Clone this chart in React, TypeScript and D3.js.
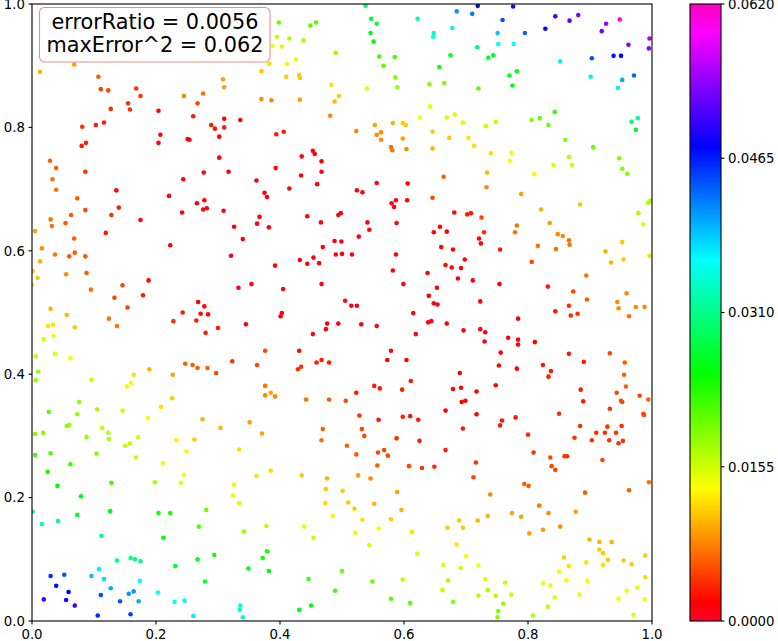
import React from "react";
import * as d3 from "d3";

// [x, y, error] samples
const points: [number, number, number][] = [
[0.013,0.890,0.010],[0.068,0.902,0.009],[0.107,0.882,0.006],[0.111,0.862,0.005],[0.123,0.860,0.005],
[0.168,0.863,0.004],[0.175,0.851,0.004],[0.155,0.839,0.004],[0.158,0.829,0.004],[0.127,0.830,0.004],
[0.204,0.827,0.002],[0.245,0.851,0.008],[0.276,0.855,0.007],[0.267,0.839,0.005],[0.308,0.878,0.009],
[0.310,0.865,0.009],[0.260,0.818,0.003],[0.310,0.814,0.002],[0.289,0.804,0.003],[0.295,0.798,0.003],
[0.310,0.800,0.003],[0.081,0.801,0.004],[0.103,0.804,0.003],[0.116,0.808,0.003],[0.207,0.788,0.002],
[0.204,0.775,0.002],[0.251,0.781,0.001],[0.254,0.780,0.001],[0.302,0.785,0.002],[0.302,0.751,0.001],
[0.080,0.770,0.003],[0.087,0.775,0.003],[0.029,0.746,0.006],[0.039,0.734,0.006],[0.033,0.716,0.007],
[0.039,0.699,0.007],[0.086,0.728,0.004],[0.073,0.685,0.006],[0.136,0.698,0.002],[0.140,0.670,0.003],
[0.221,0.689,0.001],[0.244,0.716,0.001],[0.277,0.727,0.001],[0.317,0.728,0.001],[0.266,0.677,0.001],
[0.278,0.682,0.001],
[0.538,0.997,0.030],[0.547,0.976,0.027],[0.556,0.968,0.027],[0.546,0.953,0.026],[0.551,0.939,0.025],
[0.622,0.976,0.033],[0.648,0.953,0.034],[0.647,0.947,0.034],[0.398,0.970,0.020],[0.449,0.965,0.021],
[0.458,0.970,0.021],[0.395,0.947,0.016],[0.415,0.944,0.017],[0.438,0.941,0.017],[0.403,0.931,0.015],
[0.388,0.932,0.014],[0.383,0.903,0.012],[0.370,0.891,0.011],[0.411,0.903,0.013],[0.426,0.910,0.014],
[0.490,0.921,0.018],[0.410,0.882,0.011],[0.431,0.885,0.011],[0.432,0.880,0.011],[0.483,0.869,0.012],
[0.495,0.851,0.011],[0.488,0.842,0.010],[0.481,0.819,0.008],[0.370,0.846,0.008],[0.386,0.844,0.008],
[0.432,0.845,0.009],[0.336,0.812,0.002],[0.394,0.789,0.003],[0.406,0.793,0.003],[0.435,0.753,0.001],
[0.453,0.762,0.001],[0.456,0.757,0.001],[0.467,0.745,0.002],[0.393,0.734,0.001],[0.434,0.722,0.001],
[0.467,0.728,0.001],[0.460,0.708,0.001],[0.362,0.714,0.001],[0.375,0.694,0.001],[0.379,0.687,0.001],
[0.415,0.701,0.001],[0.523,0.794,0.008],[0.553,0.804,0.009],[0.556,0.788,0.008],[0.563,0.792,0.008],
[0.563,0.780,0.008],[0.582,0.807,0.010],[0.598,0.807,0.011],[0.603,0.804,0.011],[0.598,0.782,0.009],
[0.579,0.768,0.007],[0.581,0.763,0.007],[0.604,0.765,0.008],[0.646,0.793,0.011],[0.646,0.766,0.010],
[0.626,0.816,0.014],[0.642,0.834,0.015],[0.540,0.863,0.015],[0.589,0.865,0.018],[0.586,0.881,0.019],
[0.560,0.915,0.022],[0.567,0.900,0.021],[0.585,0.914,0.022],[0.641,0.870,0.019],[0.657,0.898,0.024],
[0.665,0.872,0.019],[0.664,0.720,0.006],[0.646,0.686,0.005],[0.524,0.698,0.001],[0.533,0.695,0.001],
[0.556,0.710,0.001],[0.606,0.709,0.001],[0.605,0.682,0.002],[0.580,0.677,0.001],[0.587,0.682,0.001],
[0.584,0.671,0.001],
[0.719,0.997,0.047],[0.776,0.996,0.049],[0.685,0.988,0.041],[0.710,0.984,0.042],[0.759,0.974,0.044],
[0.678,0.961,0.037],[0.751,0.953,0.039],[0.795,0.953,0.043],[0.752,0.935,0.036],[0.777,0.935,0.036],
[0.718,0.930,0.030],[0.828,0.960,0.048],[0.844,0.980,0.051],[0.867,0.973,0.052],[0.881,0.982,0.054],
[0.926,0.968,0.055],[0.948,0.975,0.062],[0.919,0.956,0.053],[0.962,0.934,0.054],[0.996,0.944,0.055],
[0.995,0.928,0.054],[0.938,0.916,0.047],[0.950,0.916,0.048],[0.903,0.912,0.044],[0.852,0.907,0.037],
[0.901,0.882,0.037],[0.971,0.884,0.043],[0.952,0.877,0.040],[0.945,0.864,0.037],[0.675,0.917,0.026],
[0.736,0.913,0.027],[0.744,0.917,0.027],[0.770,0.884,0.026],[0.782,0.891,0.026],[0.775,0.868,0.026],
[0.720,0.863,0.021],[0.669,0.816,0.015],[0.682,0.821,0.015],[0.695,0.808,0.015],[0.732,0.802,0.016],
[0.748,0.809,0.016],[0.806,0.812,0.019],[0.819,0.815,0.020],[0.833,0.804,0.020],[0.843,0.825,0.023],
[0.860,0.780,0.019],[0.905,0.768,0.020],[0.967,0.809,0.030],[0.977,0.815,0.032],[0.974,0.796,0.027],
[0.673,0.783,0.011],[0.704,0.783,0.012],[0.713,0.770,0.012],[0.740,0.758,0.012],[0.773,0.759,0.014],
[0.771,0.746,0.013],[0.866,0.752,0.017],[0.871,0.739,0.016],[0.841,0.739,0.015],[0.947,0.750,0.019],
[0.952,0.733,0.019],[0.960,0.725,0.019],[0.810,0.724,0.013],[0.734,0.727,0.010],[0.733,0.703,0.008],
[0.789,0.692,0.009],[0.884,0.675,0.011],[0.994,0.678,0.017],[0.997,0.681,0.017],
[0.086,0.666,0.005],[0.128,0.658,0.004],[0.063,0.658,0.006],[0.030,0.651,0.007],[0.032,0.640,0.007],
[0.054,0.645,0.006],[0.005,0.632,0.009],[0.175,0.650,0.002],[0.119,0.629,0.003],[0.068,0.620,0.006],
[0.242,0.662,0.001],[0.276,0.667,0.001],[0.282,0.669,0.001],[0.309,0.665,0.001],[0.326,0.639,0.001],
[0.223,0.609,0.001],[0.321,0.592,0.001],[0.016,0.604,0.008],[0.037,0.594,0.007],[0.060,0.591,0.006],
[0.069,0.597,0.006],[0.086,0.591,0.006],[0.013,0.583,0.010],[0.001,0.567,0.011],[0.009,0.556,0.011],
[0.000,0.545,0.012],[0.055,0.562,0.008],[0.088,0.564,0.006],[0.095,0.537,0.007],[0.146,0.544,0.005],
[0.133,0.524,0.005],[0.188,0.552,0.002],[0.179,0.528,0.003],[0.154,0.508,0.005],[0.124,0.490,0.007],
[0.137,0.478,0.007],[0.030,0.506,0.010],[0.056,0.496,0.010],[0.026,0.478,0.012],[0.034,0.480,0.012],
[0.069,0.476,0.011],[0.035,0.462,0.013],[0.019,0.457,0.015],[0.006,0.429,0.016],[0.037,0.433,0.015],
[0.062,0.426,0.014],[0.010,0.404,0.018],[0.006,0.390,0.018],[0.096,0.391,0.016],[0.076,0.355,0.018],
[0.027,0.339,0.021],[0.073,0.335,0.018],[0.105,0.343,0.017],[0.146,0.341,0.016],[0.153,0.380,0.013],
[0.160,0.386,0.013],[0.164,0.399,0.012],[0.189,0.408,0.010],[0.227,0.399,0.009],[0.226,0.361,0.011],
[0.208,0.347,0.012],[0.247,0.417,0.006],[0.259,0.415,0.006],[0.267,0.410,0.006],[0.283,0.410,0.006],
[0.297,0.402,0.005],[0.323,0.421,0.004],[0.268,0.517,0.002],[0.278,0.510,0.002],[0.243,0.500,0.003],
[0.272,0.498,0.002],[0.284,0.497,0.002],[0.228,0.486,0.004],[0.265,0.487,0.003],[0.280,0.467,0.003],
[0.300,0.475,0.003],
[0.367,0.655,0.001],[0.363,0.644,0.001],[0.382,0.638,0.001],[0.340,0.619,0.001],[0.444,0.656,0.001],
[0.466,0.646,0.001],[0.494,0.658,0.001],[0.498,0.661,0.001],[0.541,0.646,0.001],[0.544,0.634,0.001],
[0.527,0.623,0.001],[0.588,0.645,0.001],[0.488,0.616,0.001],[0.499,0.615,0.001],[0.469,0.606,0.001],
[0.490,0.594,0.001],[0.500,0.595,0.001],[0.516,0.594,0.001],[0.432,0.585,0.001],[0.444,0.579,0.001],
[0.454,0.589,0.001],[0.463,0.580,0.001],[0.392,0.576,0.001],[0.587,0.594,0.001],[0.582,0.568,0.001],
[0.333,0.540,0.001],[0.354,0.546,0.001],[0.405,0.538,0.001],[0.467,0.546,0.001],[0.599,0.546,0.001],
[0.505,0.519,0.001],[0.515,0.511,0.001],[0.524,0.511,0.001],[0.403,0.499,0.001],[0.401,0.494,0.001],
[0.345,0.481,0.001],[0.476,0.482,0.001],[0.494,0.482,0.001],[0.474,0.473,0.001],[0.453,0.465,0.001],
[0.531,0.481,0.001],[0.556,0.478,0.001],[0.615,0.499,0.001],[0.638,0.564,0.001],[0.653,0.540,0.001],
[0.640,0.527,0.001],[0.648,0.515,0.001],[0.654,0.513,0.001],[0.639,0.484,0.001],[0.644,0.486,0.001],
[0.619,0.465,0.001],[0.648,0.630,0.002],[0.658,0.639,0.002],[0.660,0.606,0.002],[0.579,0.438,0.002],
[0.573,0.423,0.002],[0.604,0.423,0.002],[0.611,0.389,0.003],[0.597,0.375,0.003],[0.552,0.381,0.003],
[0.561,0.377,0.003],[0.523,0.370,0.003],[0.431,0.438,0.002],[0.459,0.419,0.003],[0.467,0.423,0.003],
[0.479,0.419,0.003],[0.429,0.408,0.004],[0.434,0.412,0.004],[0.376,0.438,0.005],[0.363,0.415,0.005],
[0.376,0.381,0.007],[0.376,0.366,0.008],[0.385,0.370,0.009],[0.392,0.364,0.008],[0.442,0.359,0.007],
[0.479,0.359,0.006],[0.506,0.357,0.005],
[0.681,0.662,0.002],[0.702,0.659,0.003],[0.708,0.661,0.003],[0.725,0.654,0.005],[0.669,0.631,0.002],
[0.729,0.630,0.004],[0.721,0.620,0.002],[0.724,0.612,0.002],[0.679,0.602,0.002],[0.698,0.586,0.001],
[0.667,0.577,0.002],[0.677,0.573,0.002],[0.692,0.572,0.002],[0.687,0.555,0.001],[0.711,0.552,0.001],
[0.754,0.546,0.002],[0.755,0.602,0.003],[0.723,0.518,0.002],[0.669,0.482,0.002],[0.696,0.471,0.001],
[0.723,0.473,0.001],[0.731,0.468,0.001],[0.730,0.453,0.001],[0.784,0.490,0.001],[0.768,0.459,0.001],
[0.784,0.456,0.001],[0.784,0.448,0.001],[0.811,0.452,0.002],[0.756,0.435,0.001],[0.753,0.414,0.002],
[0.782,0.409,0.002],[0.824,0.415,0.003],[0.837,0.405,0.003],[0.833,0.396,0.003],[0.690,0.402,0.002],
[0.679,0.376,0.002],[0.692,0.378,0.002],[0.717,0.372,0.002],[0.748,0.382,0.002],[0.693,0.355,0.002],
[0.699,0.357,0.002],[0.667,0.341,0.002],[0.717,0.335,0.002],[0.850,0.336,0.004],[0.806,0.582,0.005],
[0.832,0.542,0.003],[0.873,0.534,0.005],[0.894,0.560,0.007],[0.895,0.521,0.006],[0.866,0.511,0.004],
[0.844,0.502,0.003],[0.869,0.495,0.004],[0.880,0.498,0.004],[0.821,0.667,0.010],[0.835,0.645,0.009],
[0.782,0.641,0.007],[0.779,0.630,0.007],[0.848,0.627,0.008],[0.856,0.624,0.008],[0.866,0.617,0.007],
[0.867,0.610,0.007],[0.816,0.608,0.007],[0.845,0.603,0.007],[0.978,0.661,0.017],[0.986,0.643,0.015],
[0.952,0.614,0.011],[0.925,0.599,0.010],[0.934,0.581,0.010],[0.954,0.586,0.011],[0.996,0.592,0.012],
[0.959,0.531,0.008],[0.944,0.517,0.008],[0.946,0.507,0.008],[0.974,0.509,0.008],[0.988,0.509,0.008],
[0.963,0.494,0.007],[0.932,0.434,0.005],[0.956,0.419,0.006],[0.955,0.399,0.006],[0.958,0.380,0.006],
[0.943,0.370,0.005],[0.950,0.357,0.005],[0.952,0.355,0.005],[0.980,0.365,0.005],[0.994,0.359,0.006],
[0.932,0.344,0.004],[0.986,0.336,0.005],[0.866,0.433,0.003],[0.890,0.420,0.003],[0.885,0.375,0.003],
[0.889,0.356,0.003],
[0.005,0.303,0.019],[0.018,0.305,0.019],[0.056,0.316,0.018],[0.060,0.318,0.018],[0.113,0.313,0.016],
[0.123,0.305,0.017],[0.124,0.295,0.017],[0.088,0.298,0.018],[0.005,0.269,0.022],[0.030,0.272,0.021],
[0.062,0.254,0.022],[0.104,0.271,0.019],[0.150,0.284,0.016],[0.158,0.288,0.016],[0.171,0.298,0.015],
[0.168,0.265,0.016],[0.187,0.329,0.013],[0.275,0.327,0.010],[0.304,0.313,0.010],[0.233,0.293,0.013],
[0.262,0.294,0.011],[0.249,0.275,0.013],[0.334,0.278,0.012],[0.211,0.256,0.014],[0.245,0.237,0.014],
[0.240,0.224,0.015],[0.198,0.225,0.017],[0.326,0.221,0.014],[0.324,0.204,0.014],[0.025,0.242,0.024],
[0.041,0.219,0.025],[0.079,0.202,0.025],[0.128,0.224,0.022],[0.126,0.178,0.025],[0.073,0.172,0.026],
[0.042,0.162,0.031],[0.016,0.157,0.034],[0.001,0.177,0.033],[0.112,0.138,0.031],[0.204,0.175,0.024],
[0.223,0.175,0.024],[0.281,0.180,0.020],[0.269,0.153,0.021],[0.212,0.135,0.025],[0.294,0.107,0.024],
[0.267,0.100,0.026],[0.231,0.089,0.027],[0.279,0.064,0.028],[0.137,0.098,0.031],[0.159,0.102,0.031],
[0.166,0.100,0.031],[0.175,0.097,0.031],[0.108,0.084,0.037],[0.096,0.073,0.039],[0.116,0.068,0.038],
[0.127,0.053,0.040],[0.174,0.065,0.036],[0.030,0.073,0.046],[0.052,0.075,0.044],[0.039,0.057,0.047],
[0.059,0.047,0.048],[0.019,0.035,0.051],[0.055,0.034,0.049],[0.069,0.025,0.050],[0.111,0.042,0.044],
[0.156,0.044,0.041],[0.164,0.048,0.041],[0.142,0.032,0.044],[0.172,0.032,0.040],[0.106,0.009,0.046],
[0.159,0.011,0.045],[0.203,0.046,0.036],[0.230,0.031,0.036],[0.246,0.033,0.036],[0.260,0.008,0.037],
[0.351,0.322,0.009],[0.371,0.304,0.009],[0.469,0.311,0.006],[0.467,0.293,0.007],[0.528,0.333,0.004],
[0.532,0.311,0.005],[0.536,0.300,0.005],[0.559,0.326,0.003],[0.598,0.331,0.003],[0.610,0.332,0.003],
[0.623,0.326,0.003],[0.588,0.296,0.004],[0.625,0.292,0.003],[0.508,0.284,0.006],[0.523,0.270,0.006],
[0.558,0.273,0.005],[0.568,0.277,0.005],[0.574,0.268,0.005],[0.557,0.252,0.006],[0.608,0.251,0.005],
[0.629,0.248,0.004],[0.649,0.250,0.004],[0.362,0.235,0.012],[0.385,0.244,0.012],[0.435,0.236,0.011],
[0.476,0.231,0.010],[0.526,0.236,0.009],[0.546,0.231,0.008],[0.589,0.209,0.009],[0.474,0.214,0.011],
[0.501,0.211,0.011],[0.473,0.191,0.012],[0.510,0.192,0.011],[0.520,0.182,0.011],[0.552,0.190,0.010],
[0.596,0.180,0.010],[0.485,0.170,0.013],[0.533,0.164,0.012],[0.579,0.165,0.011],[0.334,0.191,0.015],
[0.342,0.145,0.018],[0.378,0.154,0.016],[0.439,0.153,0.015],[0.454,0.135,0.016],[0.521,0.143,0.014],
[0.559,0.150,0.013],[0.613,0.144,0.012],[0.544,0.123,0.015],[0.621,0.109,0.015],[0.663,0.091,0.015],
[0.598,0.067,0.016],[0.662,0.050,0.016],[0.379,0.113,0.024],[0.372,0.102,0.024],[0.349,0.085,0.026],
[0.382,0.081,0.025],[0.500,0.081,0.020],[0.549,0.064,0.020],[0.446,0.068,0.022],[0.489,0.049,0.022],
[0.579,0.036,0.021],[0.610,0.029,0.021],[0.431,0.018,0.026],[0.450,0.025,0.026],[0.336,0.025,0.035],
[0.335,0.018,0.035],[0.340,0.006,0.034],
[0.758,0.325,0.003],[0.755,0.317,0.003],[0.780,0.330,0.003],[0.695,0.312,0.003],[0.800,0.302,0.004],
[0.884,0.316,0.004],[0.875,0.297,0.004],[0.903,0.293,0.004],[0.910,0.305,0.004],[0.924,0.305,0.004],
[0.928,0.315,0.004],[0.931,0.293,0.004],[0.942,0.305,0.004],[0.951,0.316,0.004],[0.946,0.288,0.004],
[0.953,0.292,0.004],[0.987,0.334,0.005],[0.667,0.277,0.003],[0.716,0.257,0.004],[0.712,0.233,0.005],
[0.809,0.273,0.004],[0.836,0.265,0.005],[0.859,0.267,0.004],[0.863,0.267,0.004],[0.838,0.251,0.005],
[0.844,0.245,0.005],[0.920,0.261,0.005],[0.995,0.225,0.007],[0.794,0.222,0.006],[0.801,0.219,0.006],
[0.892,0.208,0.006],[0.963,0.212,0.006],[0.739,0.205,0.008],[0.818,0.187,0.007],[0.833,0.175,0.008],
[0.877,0.177,0.009],[0.774,0.175,0.009],[0.789,0.169,0.009],[0.735,0.170,0.010],[0.719,0.163,0.010],
[0.689,0.163,0.011],[0.670,0.151,0.011],[0.695,0.151,0.011],[0.802,0.142,0.009],[0.824,0.148,0.009],
[0.852,0.153,0.008],[0.899,0.132,0.010],[0.915,0.128,0.010],[0.935,0.128,0.010],[0.915,0.116,0.011],
[0.921,0.110,0.011],[0.929,0.099,0.011],[0.921,0.091,0.012],[0.954,0.098,0.011],[0.967,0.092,0.011],
[0.989,0.106,0.011],[0.989,0.071,0.012],[0.976,0.054,0.013],[0.959,0.049,0.013],[0.946,0.036,0.014],
[0.988,0.035,0.014],[0.970,0.010,0.015],[0.858,0.103,0.011],[0.866,0.089,0.012],[0.894,0.095,0.012],
[0.850,0.080,0.013],[0.862,0.066,0.013],[0.896,0.065,0.013],[0.824,0.061,0.014],[0.836,0.058,0.014],
[0.843,0.038,0.015],[0.883,0.043,0.014],[0.832,0.023,0.016],[0.808,0.009,0.017],[0.763,0.062,0.016],
[0.773,0.043,0.016],[0.731,0.068,0.015],[0.735,0.050,0.017],[0.748,0.041,0.017],[0.720,0.041,0.017],
[0.760,0.028,0.018],[0.752,0.016,0.019],[0.751,0.006,0.019],[0.679,0.031,0.019],[0.671,0.066,0.017],
[0.691,0.086,0.015],[0.700,0.105,0.013],[0.720,0.090,0.014],[0.685,0.124,0.012],
];

const axisTicks = [0, 0.2, 0.4, 0.6, 0.8, 1.0];
const colorbarTicks = [0, 0.0155, 0.031, 0.0465, 0.062];
const errorMax = 0.062;
// gist_rainbow colormap anchors
const cmapStops = [0.0, 0.03, 0.215, 0.4, 0.586, 0.77, 0.954, 1.0];
const cmapColors = [
  "rgb(255,0,41)", "rgb(255,0,0)", "rgb(255,255,0)", "rgb(0,255,0)",
  "rgb(0,255,255)", "rgb(0,0,255)", "rgb(255,0,255)", "rgb(255,0,191)",
];
const annotationLines = ["errorRatio = 0.0056", "maxError^2 = 0.062"];

const W = 778, H = 641;
const left = 32, right = 652, top = 4, bottom = 621;
const cbLeft = 690, cbRight = 721;
const font = "DejaVu Sans, sans-serif";

export default function App() {
  const x = d3.scaleLinear().domain([0, 1]).range([left, right]);
  const y = d3.scaleLinear().domain([0, 1]).range([bottom, top]);
  const color = d3
    .scaleLinear<string>()
    .domain(cmapStops.map((s) => s * errorMax))
    .range(cmapColors)
    .clamp(true);
  const cbY = d3.scaleLinear().domain([0, errorMax]).range([bottom, top]);
  const fmt = d3.format(".1f");
  const fmt4 = d3.format(".4f");

  return (
    <svg
      width={W}
      height={H}
      style={{ position: "absolute", left: 0, top: 0, background: "#fff" }}
      fontFamily={font}
    >
      <defs>
        <clipPath id="plotClip">
          <rect x={left} y={top} width={right - left} height={bottom - top} />
        </clipPath>
        <linearGradient id="cbGrad" x1="0" y1="1" x2="0" y2="0">
          {cmapStops.map((s, i) => (
            <stop key={i} offset={s} stopColor={cmapColors[i]} />
          ))}
        </linearGradient>
      </defs>
      <rect x={0} y={0} width={W} height={H} fill="#fff" />
      <g clipPath="url(#plotClip)">
        {points.map((p, i) => (
          <circle key={i} cx={x(p[0])} cy={y(p[1])} r={2.3} fill={color(p[2])} />
        ))}
      </g>
      <rect
        x={left}
        y={top}
        width={right - left}
        height={bottom - top}
        fill="none"
        stroke="#000"
        strokeWidth={1.1}
      />
      {axisTicks.map((t) => (
        <g key={"x" + t}>
          <line x1={x(t)} x2={x(t)} y1={bottom} y2={bottom + 3.5} stroke="#000" strokeWidth={1.1} />
          <text x={x(t)} y={bottom + 17.5} fontSize={13.3} textAnchor="middle" fill="#000">
            {fmt(t)}
          </text>
        </g>
      ))}
      {axisTicks.map((t) => (
        <g key={"y" + t}>
          <line x1={left - 3.5} x2={left} y1={y(t)} y2={y(t)} stroke="#000" strokeWidth={1.1} />
          <text x={left - 7} y={y(t)} dy="0.36em" fontSize={13.3} textAnchor="end" fill="#000">
            {fmt(t)}
          </text>
        </g>
      ))}
      <g>
        <rect x={39.5} y={7.5} width={230.5} height={54.5} rx={5} ry={5} fill="#fff" stroke="#f08a8a" strokeWidth={1.1} />
        {annotationLines.map((s, i) => (
          <text key={i} x={155} y={28.5 + i * 23.5} fontSize={20.8} textAnchor="middle" fill="#000">
            {s}
          </text>
        ))}
      </g>
      <rect x={cbLeft} y={top} width={cbRight - cbLeft} height={bottom - top} fill="url(#cbGrad)" />
      <rect x={cbLeft} y={top} width={cbRight - cbLeft} height={bottom - top} fill="none" stroke="#000" strokeWidth={1.1} />
      {colorbarTicks.map((t) => (
        <g key={"c" + t}>
          <line x1={cbRight} x2={cbRight + 3.5} y1={cbY(t)} y2={cbY(t)} stroke="#000" strokeWidth={1.1} />
          <text x={cbRight + 7} y={cbY(t)} dy="0.36em" fontSize={13.3} fill="#000">
            {fmt4(t)}
          </text>
        </g>
      ))}
    </svg>
  );
}
